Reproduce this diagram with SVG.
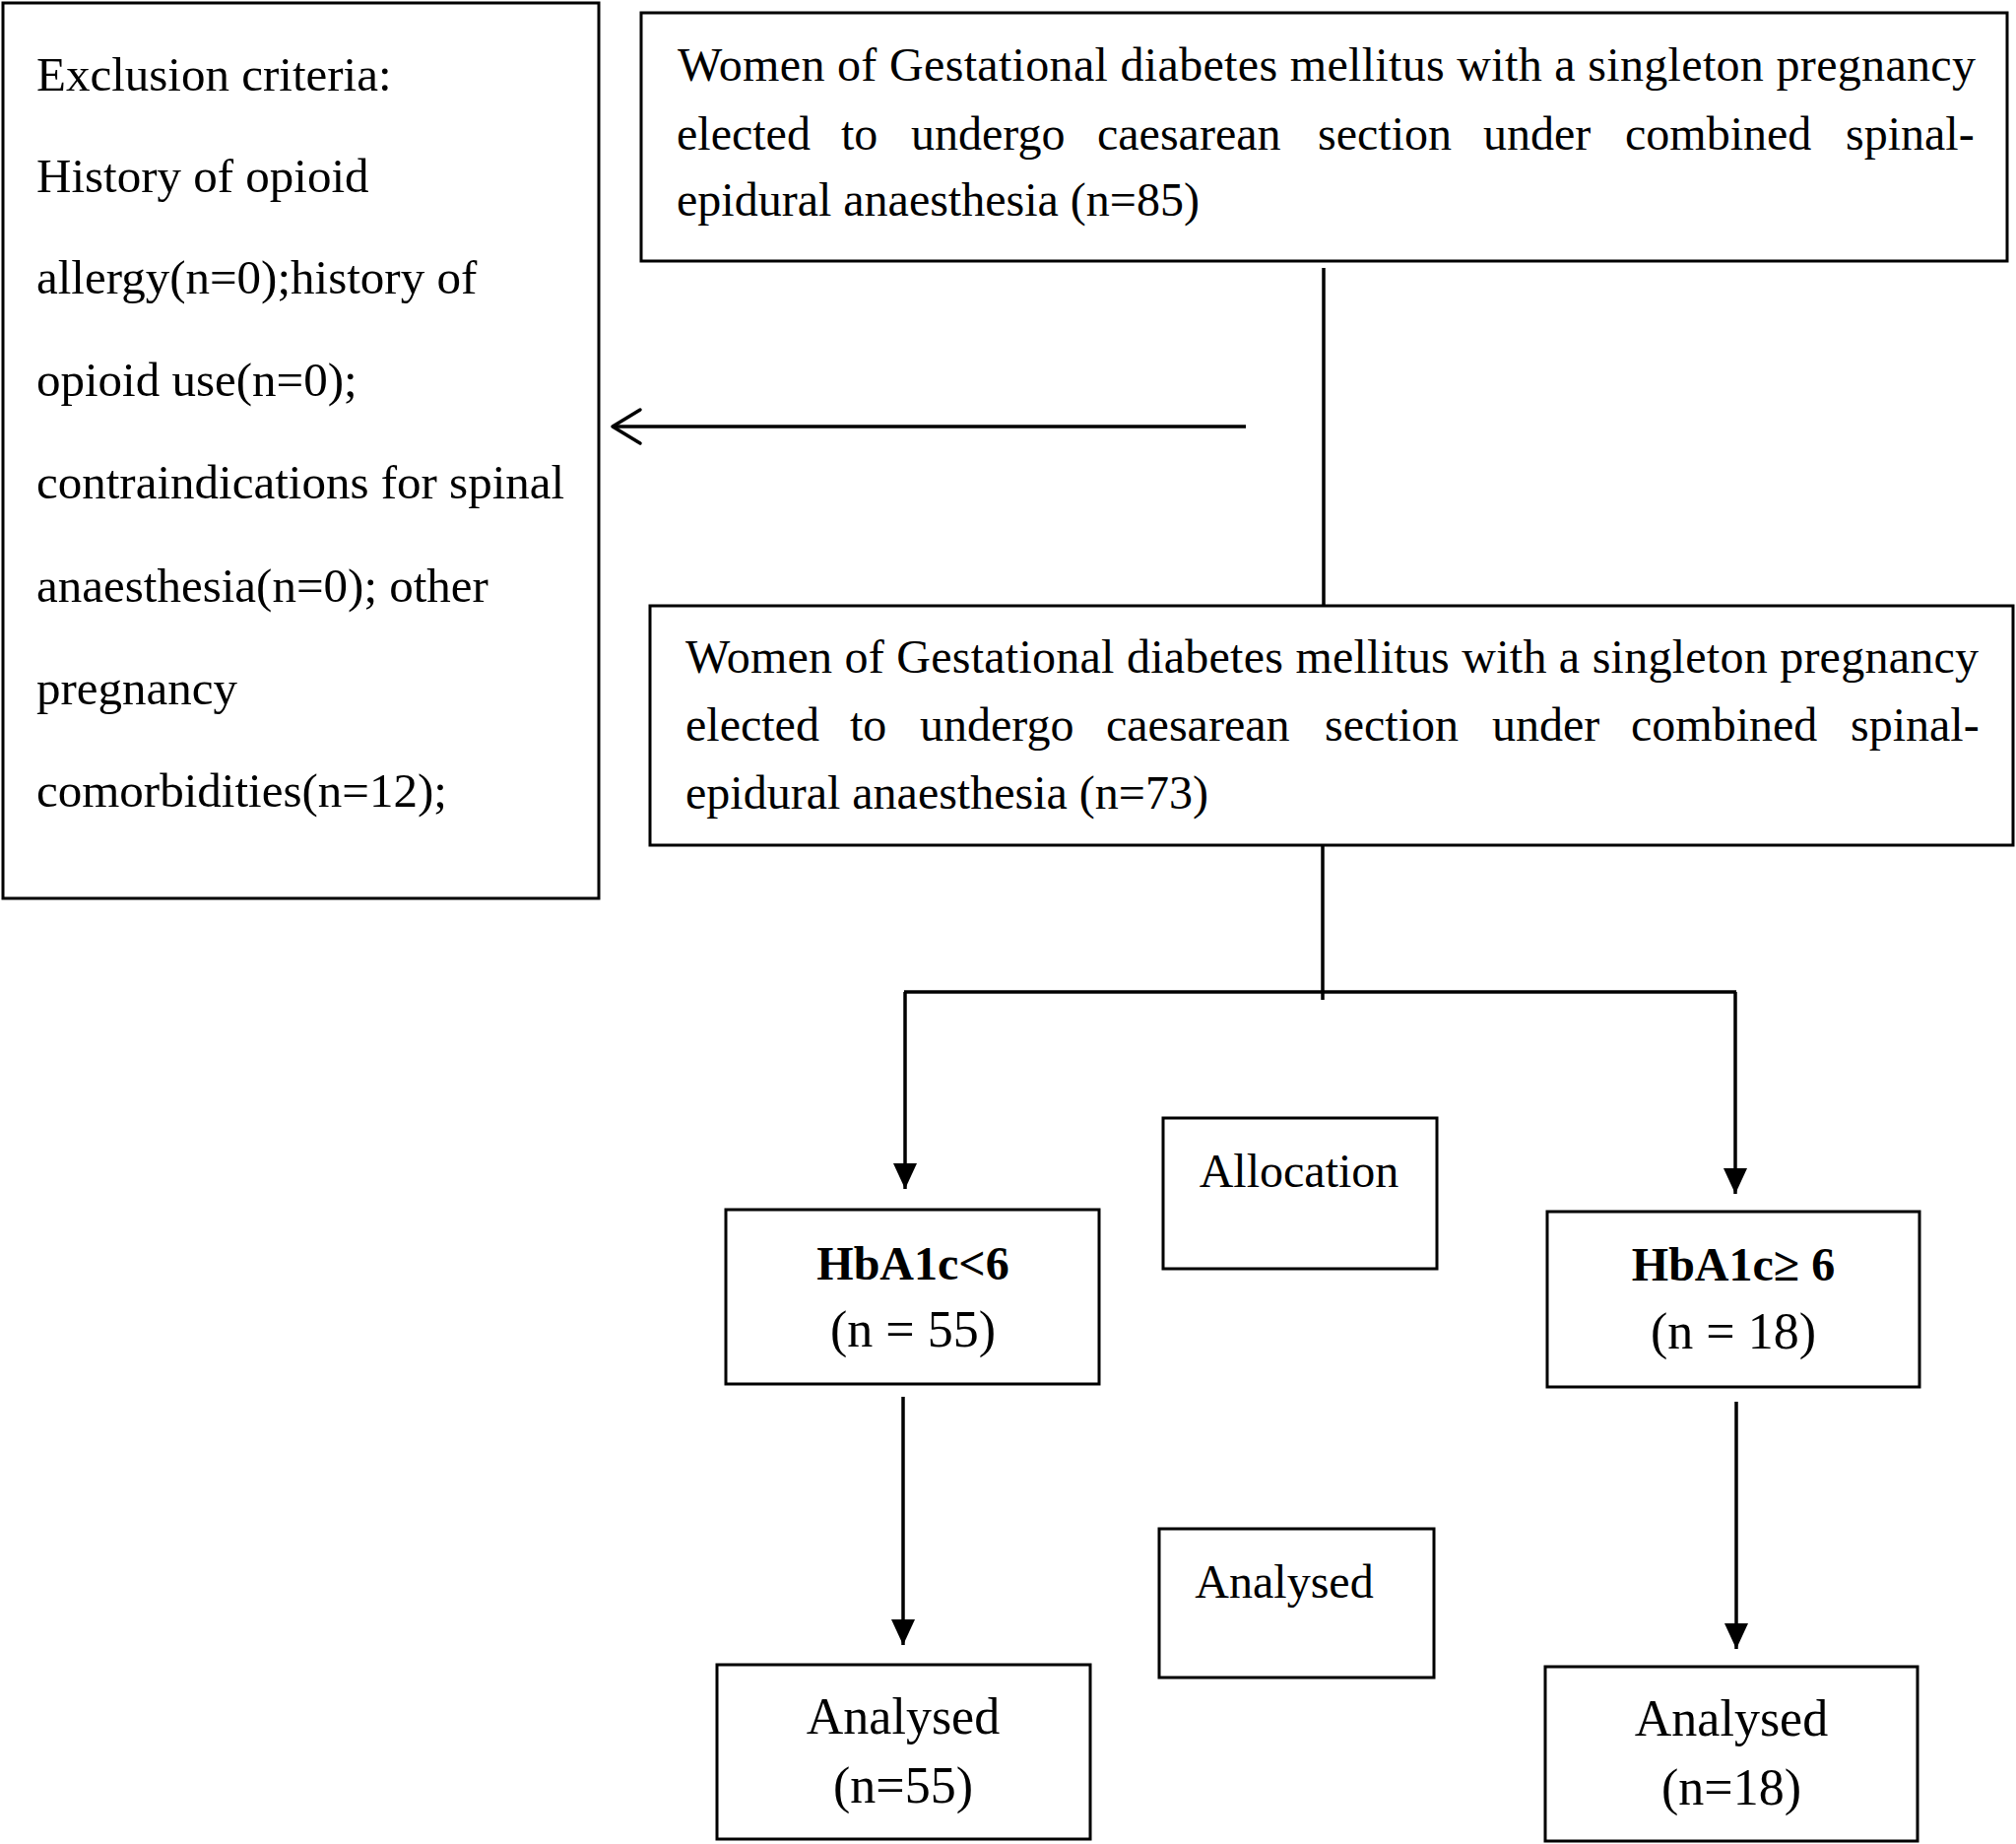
<svg xmlns="http://www.w3.org/2000/svg" width="2047" height="1872" viewBox="0 0 2047 1872">
<style>
.box{fill:#fff;stroke:#000;stroke-width:3}
.t{font-family:"Liberation Serif","Times New Roman",serif;font-size:48px;fill:#000}
.ex{font-size:49px}
.c{text-anchor:middle}
.b{font-weight:bold}
.big{font-size:52px}
.ln{stroke:#000;stroke-width:3.5;fill:none}
</style>
<defs>
<marker id="tri" viewBox="0 0 26 24" refX="26" refY="12" markerWidth="26" markerHeight="24" markerUnits="userSpaceOnUse" orient="auto">
<path d="M0,0 L26,12 L0,24 Z" fill="#000"/>
</marker>
</defs>
<rect width="2047" height="1872" fill="#fff"/>
<g id="exclusion">
<rect class="box" x="3" y="3" width="605" height="909"/>
<text class="t ex" x="37" y="92">Exclusion criteria:</text>
<text class="t ex" x="37" y="195">History of opioid</text>
<text class="t ex" x="37" y="298">allergy(n=0);history of</text>
<text class="t ex" x="37" y="402">opioid use(n=0);</text>
<text class="t ex" x="37" y="506">contraindications for spinal</text>
<text class="t ex" x="37" y="611">anaesthesia(n=0); other</text>
<text class="t ex" x="37" y="715">pregnancy</text>
<text class="t ex" x="37" y="819">comorbidities(n=12);</text>
</g>
<g id="enrolled">
<rect class="box" x="651" y="13" width="1387" height="252"/>
<text class="t" x="688" y="82" textLength="1318" lengthAdjust="spacing">Women of Gestational diabetes mellitus with a singleton pregnancy</text>
<text class="t" y="152"><tspan x="687">elected</tspan><tspan x="854">to</tspan><tspan x="925">undergo</tspan><tspan x="1114">caesarean</tspan><tspan x="1338">section</tspan><tspan x="1506">under</tspan><tspan x="1650">combined</tspan><tspan x="1874">spinal-</tspan></text>
<text class="t" x="687" y="219">epidural anaesthesia (n=85)</text>
</g>
<g id="included">
<rect class="box" x="660" y="615" width="1384" height="243"/>
<text class="t" x="696" y="683" textLength="1313" lengthAdjust="spacing">Women of Gestational diabetes mellitus with a singleton pregnancy</text>
<text class="t" y="752"><tspan x="696">elected</tspan><tspan x="863">to</tspan><tspan x="934">undergo</tspan><tspan x="1123">caesarean</tspan><tspan x="1345">section</tspan><tspan x="1515">under</tspan><tspan x="1656">combined</tspan><tspan x="1879">spinal-</tspan></text>
<text class="t" x="696" y="821">epidural anaesthesia (n=73)</text>
</g>
<g id="allocation">
<rect class="box" x="1181" y="1135" width="278" height="153"/>
<text class="t c" x="1319" y="1205">Allocation</text>
</g>
<g id="group-low">
<rect class="box" x="737" y="1228" width="379" height="177"/>
<text class="t c b" x="927" y="1299">HbA1c&lt;6</text>
<text class="t c big" x="927" y="1367">(n = 55)</text>
</g>
<g id="group-high">
<rect class="box" x="1571" y="1230" width="378" height="178"/>
<text class="t c b" x="1760" y="1300">HbA1c≥ 6</text>
<text class="t c big" x="1760" y="1369">(n = 18)</text>
</g>
<g id="analysed-label">
<rect class="box" x="1177" y="1552" width="279" height="151"/>
<text class="t c" x="1304" y="1622">Analysed</text>
</g>
<g id="analysed-low">
<rect class="box" x="728" y="1690" width="379" height="177"/>
<text class="t c big" x="917" y="1760">Analysed</text>
<text class="t c big" x="917" y="1830">(n=55)</text>
</g>
<g id="analysed-high">
<rect class="box" x="1569" y="1692" width="378" height="177"/>
<text class="t c big" x="1758" y="1762">Analysed</text>
<text class="t c big" x="1758" y="1832">(n=18)</text>
</g>
<g id="connectors">
<line class="ln" x1="1344" y1="272" x2="1344" y2="615"/>
<line class="ln" x1="1265" y1="433" x2="622" y2="433" stroke-width="4"/>
<polyline class="ln" points="650,416 622,433 650,450" stroke-width="4" stroke-linecap="round" stroke-linejoin="round"/>
<line class="ln" x1="1343" y1="858" x2="1343" y2="1015"/>
<line class="ln" x1="918" y1="1007" x2="1763" y2="1007" stroke-width="4.5"/>
<line class="ln" x1="919" y1="1007" x2="919" y2="1207" marker-end="url(#tri)"/>
<line class="ln" x1="1762" y1="1007" x2="1762" y2="1212" marker-end="url(#tri)"/>
<line class="ln" x1="917" y1="1418" x2="917" y2="1670" marker-end="url(#tri)"/>
<line class="ln" x1="1763" y1="1423" x2="1763" y2="1674" marker-end="url(#tri)"/>
</g>
</svg>
